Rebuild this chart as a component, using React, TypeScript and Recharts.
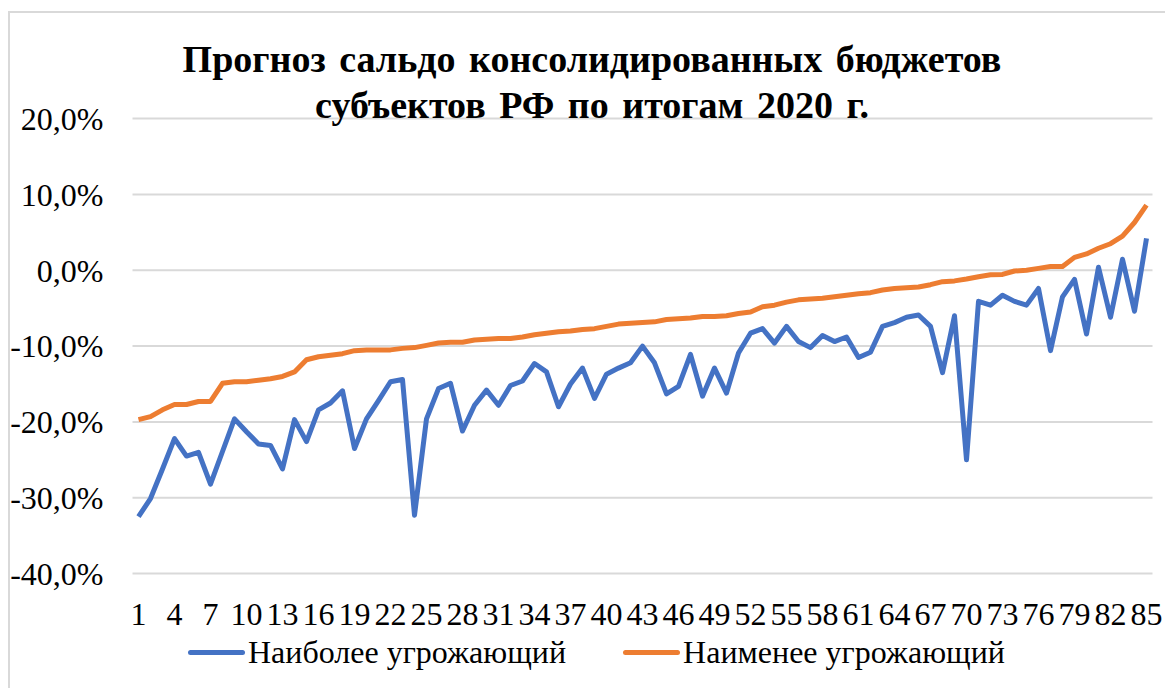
import React from "react";
import { LineChart, Line, XAxis, YAxis, CartesianGrid } from "recharts";

const regions = Array.from({ length: 85 }, (_, i) => String(i + 1));

const worstCase = [
  -32.5, -30.1, -26.2, -22.2, -24.5, -24.0, -28.2, -23.9, -19.6, -21.3,
  -22.9, -23.1, -26.2, -19.7, -22.6, -18.4, -17.5, -15.9, -23.5, -19.6,
  -17.2, -14.7, -14.4, -32.3, -19.6, -15.6, -14.9, -21.2, -17.8, -15.8,
  -17.8, -15.2, -14.6, -12.3, -13.4, -18.0, -15.0, -12.9, -16.9, -13.7,
  -12.9, -12.2, -10.0, -12.2, -16.3, -15.3, -11.1, -16.6, -12.9, -16.2,
  -10.9, -8.3, -7.7, -9.6, -7.4, -9.4, -10.2, -8.6, -9.4, -8.8,
  -11.5, -10.8, -7.4, -6.9, -6.2, -5.9, -7.4, -13.5, -6.0, -25.0,
  -4.1, -4.6, -3.3, -4.1, -4.6, -2.4, -10.6, -3.5, -1.2, -8.4,
  0.4, -6.2, 1.45, -5.4, 4.2,
];

const bestCase = [
  -19.7, -19.3, -18.4, -17.7, -17.7, -17.3, -17.3, -14.9, -14.7, -14.7,
  -14.5, -14.3, -14.0, -13.4, -11.8, -11.4, -11.2, -11.0, -10.6, -10.5,
  -10.5, -10.5, -10.3, -10.2, -9.9, -9.6, -9.5, -9.5, -9.2, -9.1,
  -9.0, -9.0, -8.8, -8.5, -8.3, -8.1, -8.0, -7.8, -7.7, -7.4,
  -7.1, -7.0, -6.9, -6.8, -6.5, -6.4, -6.3, -6.1, -6.1, -6.0,
  -5.7, -5.5, -4.8, -4.6, -4.2, -3.9, -3.8, -3.7, -3.5, -3.3,
  -3.1, -2.95, -2.6, -2.4, -2.3, -2.2, -1.9, -1.5, -1.4, -1.15,
  -0.85, -0.6, -0.55, -0.1, 0.0, 0.25, 0.5, 0.5, 1.7, 2.15,
  2.9, 3.5, 4.5, 6.3, 8.6,
];

const yTicks = [-40, -30, -20, -10, 0, 10, 20];

const BLUE = "#4472C4";
const ORANGE = "#ED7D31";
// plain "serif" resolves to a Times-like face here; the named families fall back to sans
const FONT = "serif";

const data = regions.map((n, i) => ({
  n,
  worst: worstCase[i],
  best: bestCase[i],
}));

const fmtPct = (v: number) => `${v.toFixed(1).replace(".", ",")}%`;

export default function App() {
  return (
    <div
      style={{
        position: "absolute",
        left: 0,
        top: 0,
        width: 1165,
        height: 688,
        overflow: "hidden",
        background: "#fff",
        fontFamily: FONT,
      }}
    >
      <div
        style={{
          position: "absolute",
          left: 8,
          top: 11,
          width: 1200,
          height: 720,
          border: "2px solid #d9d9d9",
        }}
      />
      <LineChart
        width={1165}
        height={688}
        data={data}
        margin={{ top: 118.6, right: 12.5, bottom: 54.4, left: 0 }}
        style={{ fontFamily: FONT }}
      >
        <CartesianGrid vertical={false} stroke="#d9d9d9" strokeWidth={2} />
        <XAxis
          dataKey="n"
          interval={2}
          height={60}
          padding={{ left: 6, right: 6 }}
          axisLine={false}
          tickLine={false}
          tickSize={0}
          tickMargin={29}
          tick={{ fill: "#000", fontSize: 32, fontFamily: FONT }}
        />
        <YAxis
          width={132.5}
          domain={[-40, 20]}
          ticks={yTicks}
          tickFormatter={fmtPct}
          axisLine={false}
          tickLine={false}
          tickSize={0}
          tickMargin={29}
          tick={{ fill: "#000", fontSize: 32, fontFamily: FONT }}
        />
        <Line
          type="linear"
          dataKey="worst"
          name="Наиболее угрожающий"
          stroke={BLUE}
          strokeWidth={5}
          strokeLinejoin="round"
          dot={false}
          isAnimationActive={false}
        />
        <Line
          type="linear"
          dataKey="best"
          name="Наименее угрожающий"
          stroke={ORANGE}
          strokeWidth={5}
          strokeLinejoin="round"
          dot={false}
          isAnimationActive={false}
        />
      </LineChart>

      {/* title sits over the plot, like the Excel overlay */}
      <div
        style={{
          position: "absolute",
          left: 0,
          top: 36,
          width: 1184,
          textAlign: "center",
          fontSize: 38,
          fontWeight: "bold",
          lineHeight: "46px",
          wordSpacing: 4,
          color: "#000",
          pointerEvents: "none",
        }}
      >
        Прогноз сальдо консолидированных бюджетов
        <br />
        субъектов РФ по итогам 2020 г.
      </div>

      <div
        style={{
          position: "absolute",
          left: 188,
          top: 634,
          height: 36,
          display: "flex",
          alignItems: "center",
          gap: 57,
          fontSize: 32,
          lineHeight: "36px",
          color: "#000",
        }}
      >
        {[
          { label: "Наиболее угрожающий", color: BLUE },
          { label: "Наименее угрожающий", color: ORANGE },
        ].map((item) => (
          <div key={item.label} style={{ display: "flex", alignItems: "center" }}>
            <span
              style={{
                display: "inline-block",
                width: 57,
                height: 5,
                borderRadius: 3,
                background: item.color,
                marginRight: 3,
              }}
            />
            <span>{item.label}</span>
          </div>
        ))}
      </div>
    </div>
  );
}
